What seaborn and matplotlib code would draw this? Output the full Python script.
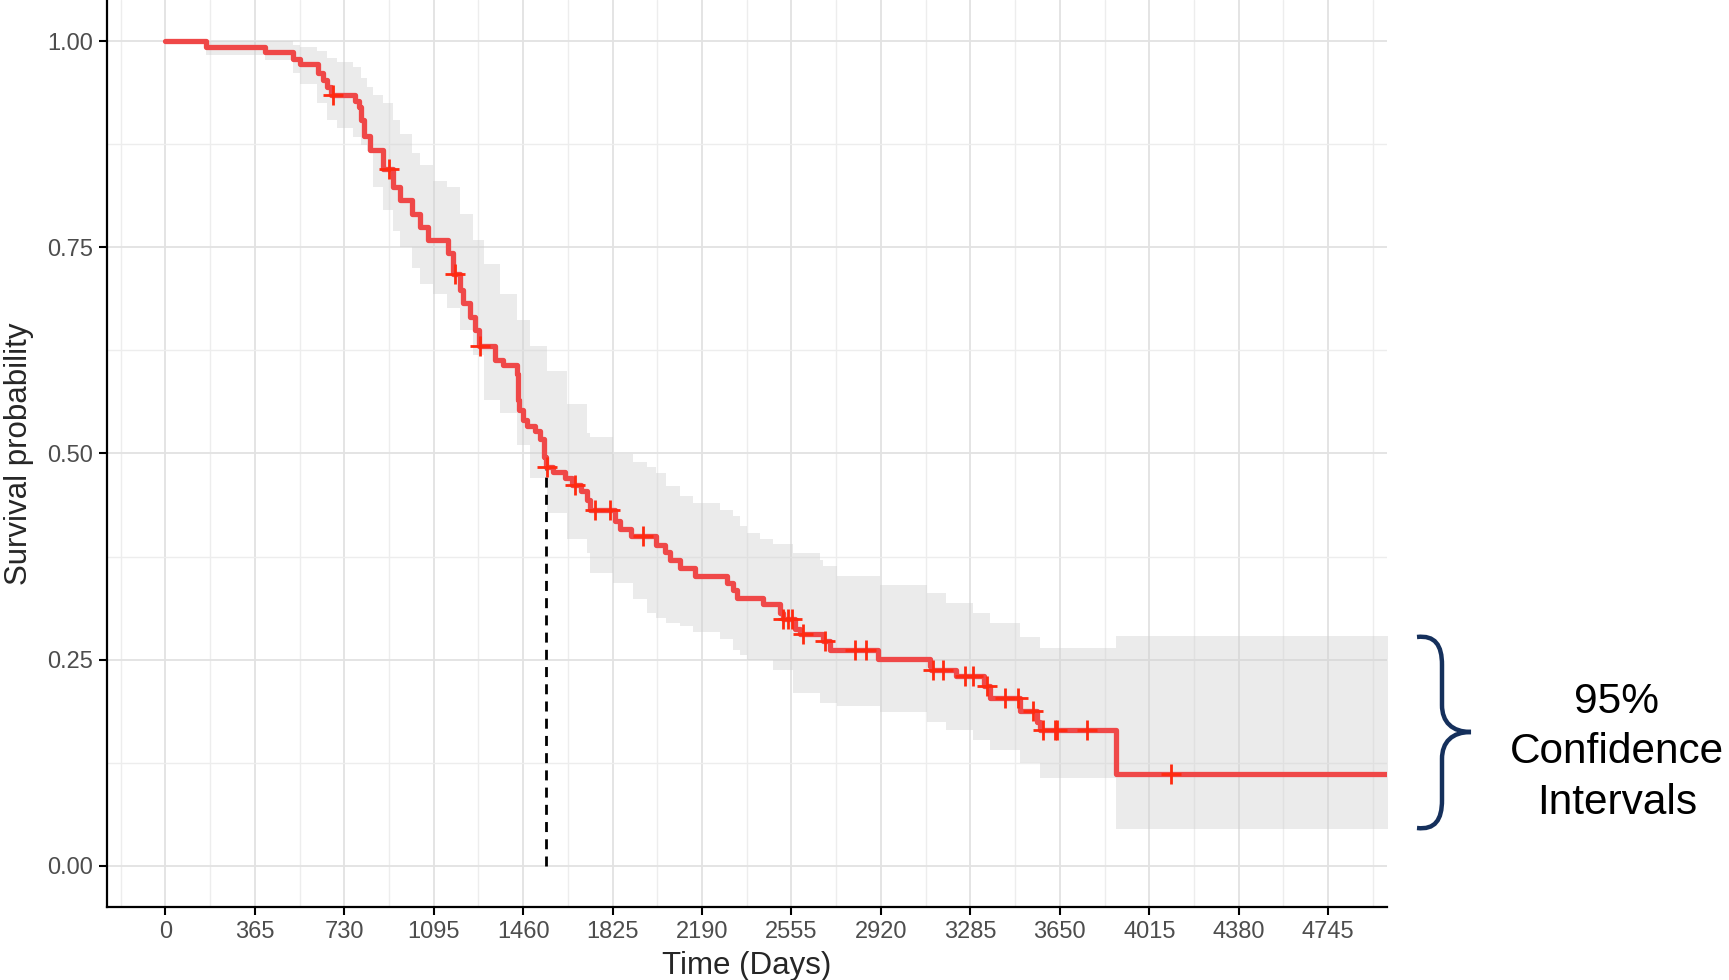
import numpy as np
import pandas as pd
import seaborn as sns
import matplotlib.pyplot as plt
from matplotlib.path import Path
from matplotlib.patches import PathPatch

sns.set_theme(style="white")
plt.rcParams['font.family'] = ['Liberation Sans', 'DejaVu Sans']

# Kaplan-Meier estimate (step values, post)
km_time = [0, 166, 405, 521, 549, 623, 643, 660, 675, 773, 790, 800, 810, 835,
           889, 930, 957, 1005, 1039, 1073, 1154, 1175, 1202, 1216, 1243, 1263,
           1280, 1345, 1379, 1433, 1438, 1445, 1460, 1474, 1508, 1528, 1545,
           1552, 1582, 1630, 1660, 1698, 1719, 1732, 1834, 1855, 1900, 2004,
           2038, 2059, 2100, 2161, 2290, 2317, 2331, 2440, 2508, 2520, 2569,
           2590, 2684, 2712, 2909, 3120, 3125, 3228, 3340, 3364, 3487, 3555,
           3568, 3880, 5000]
km_surv = [1.0, 0.993, 0.987, 0.979, 0.972, 0.962, 0.953, 0.945, 0.935, 0.928,
           0.920, 0.905, 0.885, 0.868, 0.845, 0.823, 0.807, 0.791, 0.775, 0.759,
           0.743, 0.718, 0.698, 0.682, 0.666, 0.650, 0.630, 0.614, 0.607, 0.597,
           0.565, 0.553, 0.541, 0.533, 0.527, 0.517, 0.496, 0.484, 0.478, 0.470,
           0.462, 0.454, 0.444, 0.432, 0.418, 0.408, 0.400, 0.389, 0.381, 0.371,
           0.361, 0.351, 0.343, 0.335, 0.325, 0.317, 0.307, 0.299, 0.287, 0.281,
           0.272, 0.262, 0.251, 0.242, 0.238, 0.230, 0.218, 0.204, 0.188, 0.174,
           0.165, 0.111, 0.111]

# censored observations (days)
cens_time = [683, 913, 1182, 1284, 1556, 1671, 1753, 1814, 1950, 2522, 2540,
             2558, 2603, 2690, 2813, 2861, 3133, 3174, 3262, 3296, 3351, 3426,
             3480, 3541, 3582, 3630, 3637, 3759, 4103]

# 95% confidence band
ci_time = [0, 166, 405, 521, 549, 617, 660, 700, 767, 800, 821, 848, 889, 930,
           957, 1005, 1039, 1093, 1148, 1202, 1256, 1300, 1365, 1433, 1490,
           1556, 1637, 1719, 1732, 1827, 1909, 1964, 2004, 2045, 2100, 2154,
           2263, 2317, 2344, 2372, 2426, 2480, 2562, 2671, 2684, 2739, 2915,
           3106, 3187, 3296, 3364, 3487, 3568, 3880, 5000]
ci_upper = [1.0, 1.0, 1.0, 0.995, 0.993, 0.988, 0.980, 0.975, 0.969, 0.955,
            0.945, 0.935, 0.925, 0.905, 0.888, 0.865, 0.850, 0.831, 0.823,
            0.791, 0.759, 0.730, 0.694, 0.662, 0.630, 0.600, 0.560, 0.525,
            0.520, 0.500, 0.490, 0.484, 0.476, 0.460, 0.448, 0.440, 0.432,
            0.424, 0.412, 0.404, 0.396, 0.390, 0.379, 0.371, 0.363, 0.351,
            0.341, 0.331, 0.319, 0.307, 0.295, 0.278, 0.264, 0.279, 0.279]
ci_lower = [1.0, 0.983, 0.977, 0.962, 0.948, 0.925, 0.905, 0.895, 0.884, 0.874,
            0.867, 0.823, 0.795, 0.770, 0.751, 0.725, 0.705, 0.694, 0.676,
            0.650, 0.620, 0.565, 0.549, 0.510, 0.470, 0.428, 0.396, 0.379,
            0.355, 0.343, 0.323, 0.307, 0.300, 0.295, 0.291, 0.283, 0.275,
            0.262, 0.256, 0.250, 0.250, 0.238, 0.210, 0.198, 0.198, 0.194,
            0.186, 0.174, 0.165, 0.153, 0.141, 0.125, 0.107, 0.045, 0.045]

median_time = 1553
x_ticks = [0, 365, 730, 1095, 1460, 1825, 2190, 2555, 2920, 3285, 3650, 4015, 4380, 4745]
y_ticks = [0.0, 0.25, 0.5, 0.75, 1.0]
y_ticklabels = ['0.00', '0.25', '0.50', '0.75', '1.00']
ci_text = ['95%', 'Confidence', 'Intervals']

km = pd.DataFrame({'time': km_time, 'surv': km_surv})
idx = np.searchsorted(km_time, cens_time, side='right') - 1
cens = pd.DataFrame({'time': cens_time, 'surv': np.array(km_surv)[idx]})
median_surv = km_surv[np.searchsorted(km_time, median_time, side='right') - 1]

W, H = 1729, 980
fig = plt.figure(figsize=(W / 100, H / 100), dpi=100)
ax = fig.add_axes([107 / W, 73 / H, 1280 / W, 907 / H])

ax.fill_between(ci_time, ci_lower, ci_upper, step='post', color='#d0d0d0',
                alpha=0.42, lw=0, zorder=1.5)
sns.lineplot(data=km, x='time', y='surv', drawstyle='steps-post', estimator=None,
             color='#ef4848', lw=3.8, ax=ax, zorder=3)
sns.scatterplot(data=cens, x='time', y='surv', marker='+', s=190, linewidth=2.0,
                color='#ff2a10', ax=ax, zorder=4)
ax.plot([median_time, median_time], [0, median_surv], color='black',
        ls=(0, (3.6, 2.6)), lw=2.0, zorder=2.5)

ax.set_xlim(-238, 4985)
ax.set_ylim(-0.05, 1.05)
ax.set_xticks(x_ticks)
ax.set_xticks([-182.5] + list(np.array(x_ticks) + 182.5), minor=True)
ax.set_yticks(y_ticks)
ax.set_yticklabels(y_ticklabels)
ax.set_yticks([0.125, 0.375, 0.625, 0.875], minor=True)
ax.set_axisbelow(True)
ax.grid(which='major', color='#e2e2e2', lw=1.3)
ax.grid(which='minor', color='#ededed', lw=1.0)

sns.despine(ax=ax)
for s in ['left', 'bottom']:
    ax.spines[s].set_color('black')
    ax.spines[s].set_linewidth(1.6)
ax.tick_params(which='major', bottom=True, left=True, length=6, width=1.5,
               color='black', labelsize=17, labelcolor='#4d4d4d', pad=4)
ax.tick_params(which='minor', length=0)

ax.set_xlabel('Time (Days)', fontsize=22.5)
ax.set_ylabel('Survival probability', fontsize=22.5)
ax.xaxis.set_label_coords(0.5, -0.049)
ax.yaxis.set_label_coords(-0.057, 0.5)

# brace on the right
pts = [(1417, 637), (1435, 635), (1442, 645), (1442, 665), (1442, 705),
       (1442, 722), (1452, 732), (1471, 732), (1452, 732), (1442, 742),
       (1442, 759), (1442, 800), (1442, 820), (1435, 830), (1417, 828)]
codes = [Path.MOVETO, Path.CURVE4, Path.CURVE4, Path.CURVE4, Path.LINETO,
         Path.CURVE4, Path.CURVE4, Path.CURVE4, Path.CURVE4, Path.CURVE4,
         Path.CURVE4, Path.LINETO, Path.CURVE4, Path.CURVE4, Path.CURVE4]
brace = Path([(x / W, 1 - y / H) for x, y in pts], codes)
fig.add_artist(PathPatch(brace, transform=fig.transFigure, fill=False,
                         edgecolor='#15305c', lw=3.2, capstyle='butt'))

for txt, y in zip(ci_text, [702, 752, 803]):
    fig.text(1617 / W, 1 - y / H, txt, ha='center', va='center', fontsize=30.5,
             color='black')

fig.savefig('out.png', dpi=100)
